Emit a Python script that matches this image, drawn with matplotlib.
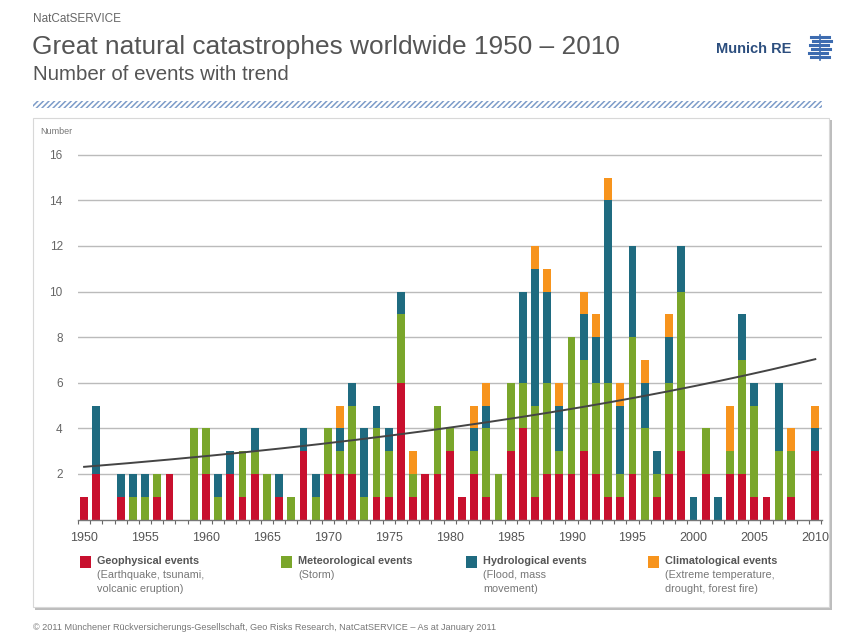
import matplotlib
matplotlib.use('Agg')
import matplotlib.pyplot as plt
import matplotlib.patches as patches
from matplotlib.lines import Line2D
import numpy as np

W, H = 849, 635

years = list(range(1950, 2011))
geophysical = [1, 2, 0, 1, 0, 0, 1, 2, 0, 0,
               2, 0, 2, 1, 2, 0, 1, 0, 3, 0,
               2, 2, 2, 0, 1, 1, 6, 1, 2, 2,
               3, 1, 2, 1, 0, 3, 4, 1, 2, 2,
               2, 3, 2, 1, 1, 2, 0, 1, 2, 3,
               0, 2, 0, 2, 2, 1, 1, 0, 1, 0,
               3]
meteorological = [0, 0, 0, 0, 1, 1, 1, 0, 0, 4,
                  2, 1, 0, 2, 1, 2, 0, 1, 0, 1,
                  2, 1, 3, 1, 3, 2, 3, 1, 0, 3,
                  1, 0, 1, 3, 2, 3, 2, 4, 4, 1,
                  6, 4, 4, 5, 1, 6, 4, 1, 4, 7,
                  0, 2, 0, 1, 5, 4, 0, 3, 2, 0,
                  0]
hydrological = [0, 3, 0, 1, 1, 1, 0, 0, 0, 0,
                0, 1, 1, 0, 1, 0, 1, 0, 1, 1,
                0, 1, 1, 3, 1, 1, 1, 0, 0, 0,
                0, 0, 1, 1, 0, 0, 4, 6, 4, 2,
                0, 2, 2, 8, 3, 4, 2, 1, 2, 2,
                1, 0, 1, 0, 2, 1, 0, 3, 0, 0,
                1]
climatological = [0, 0, 0, 0, 0, 0, 0, 0, 0, 0,
                  0, 0, 0, 0, 0, 0, 0, 0, 0, 0,
                  0, 1, 0, 0, 0, 0, 0, 1, 0, 0,
                  0, 0, 1, 1, 0, 0, 0, 1, 1, 1,
                  0, 1, 1, 1, 1, 0, 1, 0, 1, 0,
                  0, 0, 0, 2, 0, 0, 0, 0, 1, 0,
                  1]

# trend curve, points
trend_years = [1950, 1963, 1979, 1994, 2010]
trend_values = [2.3, 2.93, 4.05, 5.2, 7.0]

series_names = ['Geophysical events', 'Meteorological events',
                'Hydrological events', 'Climatological events']
series_notes = ['(Earthquake, tsunami,\nvolcanic eruption)', '(Storm)',
                '(Flood, mass\nmovement)', '(Extreme temperature,\ndrought, forest fire)']
colors = ['#c8102e', '#7aa62b', '#1f6b80', '#f7941d']


def fx(x):
    return x / W


def fy(y):
    return 1 - y / H


fig = plt.figure(figsize=(W / 100, H / 100), dpi=100)
fig.patch.set_facecolor('white')

# header
fig.text(fx(33), fy(19), 'NatCatSERVICE', fontsize=8.5, color='#666666',
         family='Liberation Sans', va='center')
fig.text(fx(32), fy(47), 'Great natural catastrophes worldwide 1950 \u2013 2010',
         fontsize=18.9, color='#555555', family='Liberation Sans', va='center')
fig.text(fx(33), fy(74), 'Number of events with trend', fontsize=14.8,
         color='#555555', family='Liberation Sans', va='center')
fig.text(fx(716), fy(49), 'Munich RE', fontsize=10.5, color='#2c4e7e',
         family='Liberation Sans', weight='bold', va='center')
for i, yy in enumerate([37, 41, 45, 49, 53, 57]):
    off = [0, 2, -1, 1, -2, 0][i]
    fig.add_artist(Line2D([fx(811 + off), fx(829 + off)], [fy(yy), fy(yy)],
                          color='#3d6cb0', lw=2.2))
fig.add_artist(Line2D([fx(820), fx(820)], [fy(35), fy(60)], color='#3d6cb0', lw=1.2))

# hatched band
plt.rcParams['hatch.linewidth'] = 1.1
fig.add_artist(patches.Rectangle((fx(33), fy(108)), fx(822) - fx(33), fy(101) - fy(108),
                                 transform=fig.transFigure, facecolor='white',
                                 edgecolor='#7d9cc9', hatch='//////', lw=0, zorder=-3))

# panel box with shadow
fig.add_artist(patches.Rectangle((fx(35), fy(610)), fx(832) - fx(35), fy(120) - fy(610),
                                 transform=fig.transFigure, facecolor='#bdbdbd',
                                 edgecolor='none', zorder=-3))
fig.add_artist(patches.Rectangle((fx(33), fy(607)), fx(829) - fx(33), fy(118) - fy(607),
                                 transform=fig.transFigure, facecolor='white',
                                 edgecolor='#d8d8d8', lw=0.8, zorder=-2))

# chart
ax = fig.add_axes([fx(78), fy(519.6), fx(822) - fx(78), 16.3 * 22.8 / H])
ax.set_facecolor('none')
x = np.array(years)
bottom = np.zeros(len(years))
for vals, c in zip([geophysical, meteorological, hydrological, climatological], colors):
    v = np.array(vals)
    ax.bar(x, v, bottom=bottom, width=0.64, color=c, zorder=3)
    bottom += v

# exponential trend through the read points
k, b = np.polyfit(np.array(trend_years) - 1950, np.log(trend_values), 1)
tx = np.linspace(1950, 2010, 200)
ax.plot(tx, np.exp(b + k * (tx - 1950)), color='#444444', lw=1.4, zorder=4)

ax.set_xlim(1949.57, 2010.55)
ax.set_ylim(0, 16.3)
ax.set_yticks(range(2, 17, 2))
ax.set_xticks(range(1950, 2011, 5))
ax.set_xticks(np.arange(1949.5, 2011, 1), minor=True)
ax.tick_params(axis='y', length=0, pad=11, labelsize=8.5, labelcolor='#666666')
ax.tick_params(axis='x', which='major', length=0, pad=9, labelsize=9, labelcolor='#555555')
ax.tick_params(axis='x', which='minor', length=3, color='#666666', width=0.8)
for lab in ax.get_xticklabels() + ax.get_yticklabels():
    lab.set_family('Liberation Sans')
ax.grid(axis='y', color='#bbbbbb', lw=1.0, zorder=0)
for s in ['top', 'right', 'left']:
    ax.spines[s].set_visible(False)
ax.spines['bottom'].set_color('#777777')
ax.spines['bottom'].set_linewidth(1.0)
ax.spines['bottom'].set_zorder(5)

fig.text(fx(40), fy(131), 'Number', fontsize=6.5, color='#777777',
         family='Liberation Sans', va='center')

# legend
legend_x = [80, 281, 466, 648]
for lx, name, note, c in zip(legend_x, series_names, series_notes, colors):
    fig.add_artist(patches.Rectangle((fx(lx), fy(568)), fx(11), 12 / H,
                                     transform=fig.transFigure, facecolor=c, edgecolor='none'))
    fig.text(fx(lx + 17), fy(561), name, fontsize=7.8, weight='bold', color='#555555',
             family='Liberation Sans', va='center')
    fig.text(fx(lx + 17), fy(569.5), note, fontsize=7.8, color='#777777',
             family='Liberation Sans', va='top', linespacing=1.5)

fig.text(fx(33), fy(628), '\u00a9 2011 M\u00fcnchener R\u00fcckversicherungs-Gesellschaft, '
         'Geo Risks Research, NatCatSERVICE \u2013 As at January 2011',
         fontsize=6.6, color='#777777', family='Liberation Sans', va='center')

fig.savefig('out.png', dpi=100)
